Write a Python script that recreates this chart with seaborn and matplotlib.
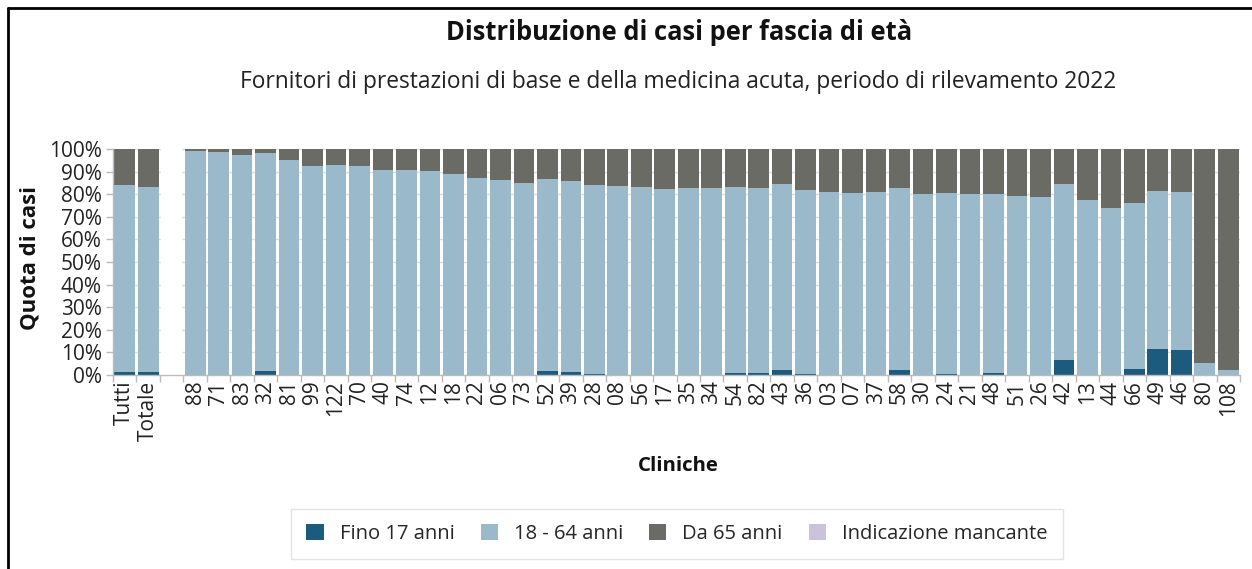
import matplotlib
matplotlib.use("Agg")
import matplotlib.pyplot as plt
import seaborn as sns
import numpy as np
from matplotlib.patches import Patch
from matplotlib.lines import Line2D

# ---- data ----
categories = ["Tutti", "Totale", "", "88", "71", "83", "32", "81", "99", "122", "70",
              "40", "74", "12", "18", "22", "06", "73", "52", "39", "28",
              "08", "56", "17", "35", "34", "54", "82", "43", "36", "03",
              "07", "37", "58", "30", "24", "21", "48", "51", "26", "42",
              "13", "44", "66", "49", "46", "80", "108"]
# upper edge of "18 - 64 anni" (= Fino 17 + 18-64), in %
upper_18_64 = [84.1, 83.0, 0, 99.0, 98.5, 97.5, 98.1, 95.2, 92.6, 93.0, 92.3,
               90.5, 90.9, 90.2, 89.0, 87.1, 86.2, 85.1, 86.8, 86.0, 84.1,
               83.5, 83.2, 82.4, 82.7, 82.6, 83.2, 82.9, 84.4, 81.7, 80.8,
               80.7, 81.0, 82.9, 80.1, 80.5, 79.9, 80.1, 79.3, 78.9, 84.7,
               77.4, 74.0, 76.2, 81.5, 80.8, 5.4, 2.1]
fino_17 = [1.2, 1.2, 0, 0, 0, 0, 1.7, 0, 0, 0, 0,
           0, 0, 0, 0, 0, 0, 0, 1.8, 1.5, 0.4,
           0, 0, 0, 0, 0, 1.0, 0.7, 2.4, 0.3, 0,
           0, 0, 2.1, 0, 0.4, 0, 0.9, 0, 0, 6.7,
           0, 0, 2.7, 11.5, 11.0, 0, 0]
anni_18_64 = [u - f for u, f in zip(upper_18_64, fino_17)]
da_65 = [0 if c == "" else 100 - u for c, u in zip(categories, upper_18_64)]
mancante = [0] * len(categories)

series_names = ["Fino 17 anni", "18 - 64 anni", "Da 65 anni", "Indicazione mancante"]
colors = ["#1c5b7e", "#9ab9ca", "#6a6b64", "#cdc2dc"]

title = "Distribuzione di casi per fascia di età"
subtitle = "Fornitori di prestazioni di base e della medicina acuta, periodo di rilevamento 2022"
ylabel = "Quota di casi"
xlabel = "Cliniche"

# ---- plot ----
sns.set_theme(style="white")
plt.rcParams['font.family'] = ['Open Sans', 'DejaVu Sans']

fig = plt.figure(figsize=(12.52, 5.69), dpi=100)
ax = fig.add_axes([113 / 1252, 1 - 375 / 569, (1240 - 113) / 1252, (375 - 149) / 569])

layers = [fino_17, anni_18_64, da_65, mancante]
cum = np.cumsum(np.array(layers), axis=0)
# draw from the top layer down so lower layers overlay
for k in range(len(layers) - 1, -1, -1):
    sns.barplot(x=categories, y=list(cum[k]), order=categories, color=colors[k],
                saturation=1, width=0.88, ax=ax, edgecolor="none", linewidth=0, zorder=2)

# blank separator column hides grid
bi = categories.index("")
ax.axvspan(bi - 0.44, bi + 0.44, color="white", zorder=1.5, lw=0)

ax.set_xlim(-0.5, len(categories) - 0.5)
ax.set_ylim(0, 100)
ax.set_yticks(np.arange(0, 101, 10))
ax.set_yticklabels([f"{v}%" for v in range(0, 101, 10)], fontsize=15, color="#222222")
ax.yaxis.grid(True, color="#dddddd", lw=1, zorder=0)
ax.set_axisbelow(True)
ax.tick_params(axis="y", length=5, width=1, color="#bbbbbb", left=True, pad=3)
ax.set_xticks(range(len(categories)))
ax.set_xticklabels(categories, rotation=90, fontsize=15, color="#222222")
ax.tick_params(axis="x", length=0, pad=4)
ax.set_xticks(np.arange(-0.5, len(categories), 1), minor=True)
ax.tick_params(axis="x", which="minor", length=5, width=1, color="#bbbbbb", bottom=True)
for s in ["top", "right"]:
    ax.spines[s].set_visible(False)
for s in ["left", "bottom"]:
    ax.spines[s].set_color("#bbbbbb")
    ax.spines[s].set_linewidth(1)
ax.set_xlabel("")
ax.set_ylabel("")

fig.text(0.542, 1 - 32 / 569, title, ha="center", va="center", fontsize=18.4, fontweight="bold", color="#111111")
fig.text(0.542, 1 - 82 / 569, subtitle, ha="center", va="center", fontsize=16.4, color="#222222")
fig.text(30 / 1252, 1 - 258 / 569, ylabel, ha="center", va="center", rotation=90, fontsize=16, fontweight="bold", color="#111111")
fig.text(678 / 1252, 1 - 466 / 569, xlabel, ha="center", va="center", fontsize=14.7, fontweight="bold", color="#111111")

handles = [Patch(facecolor=c, edgecolor="none") for c in colors]
leg = fig.legend(handles, series_names, loc="center", bbox_to_anchor=(677 / 1252, 1 - 534 / 569),
                 ncol=4, fontsize=14.5, frameon=True, fancybox=False, handlelength=0.85, handleheight=0.85,
                 handletextpad=0.8, columnspacing=1.3, borderpad=0.75)
leg.get_frame().set_edgecolor("#dddddd")
leg.get_frame().set_linewidth(1)

# outer frame (top and left)
fig.add_artist(Line2D([8 / 1252, 1.0], [1 - 8 / 569, 1 - 8 / 569], color="black", lw=2, transform=fig.transFigure))
fig.add_artist(Line2D([8 / 1252, 8 / 1252], [0, 1 - 8 / 569], color="black", lw=2, transform=fig.transFigure))

fig.savefig("out.png", dpi=100)
